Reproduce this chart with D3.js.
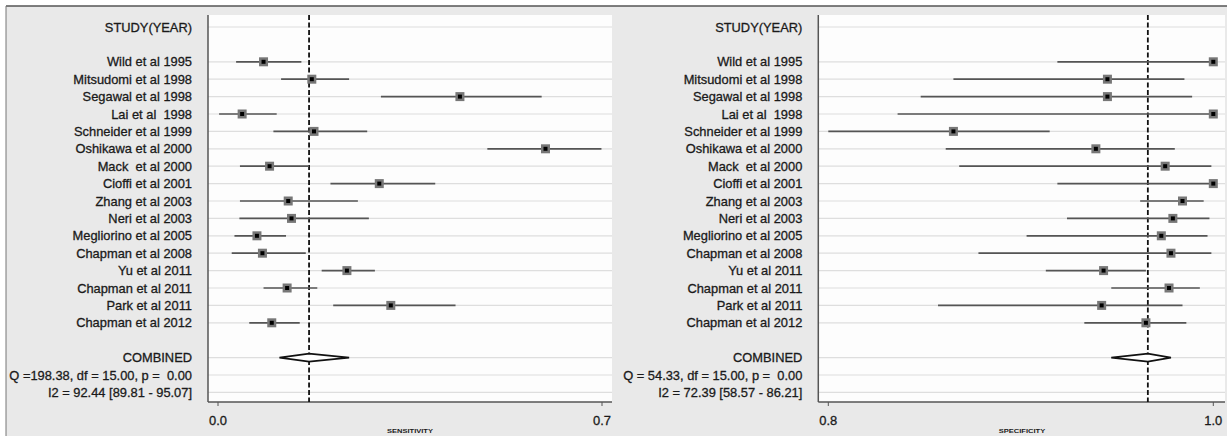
<!DOCTYPE html>
<html>
<head>
<meta charset="utf-8">
<script src="https://cdn.jsdelivr.net/npm/d3@7"></script>
<style>
  body { margin: 0; background: #fff; }
  text { font-family: "Liberation Sans", Arial, sans-serif; fill: #1a1a1a; }
</style>
</head>
<body>
<div id="chart"></div>
<script>
// row labels (top to bottom), "" = blank row
const rowLabels = ["STUDY(YEAR)", "", "Wild et al 1995", "Mitsudomi et al 1998", "Segawal et al 1998",
  "Lai et al  1998", "Schneider et al 1999", "Oshikawa et al 2000", "Mack  et al 2000", "Cioffi et al 2001",
  "Zhang et al 2003", "Neri et al 2003", "Megliorino et al 2005", "Chapman et al 2008", "Yu et al 2011",
  "Chapman et al 2011", "Park et al 2011", "Chapman et al 2012", "", "COMBINED"];

// sensitivity per study
const sensEst = [0.083, 0.171, 0.441, 0.044, 0.175, 0.597, 0.094, 0.294, 0.128, 0.134, 0.071, 0.081, 0.235, 0.126, 0.315, 0.098];
const sensLo  = [0.033, 0.115, 0.297, 0.002, 0.101, 0.491, 0.040, 0.205, 0.040, 0.039, 0.030, 0.025, 0.189, 0.083, 0.210, 0.057];
const sensHi  = [0.152, 0.239, 0.590, 0.107, 0.272, 0.699, 0.166, 0.396, 0.255, 0.275, 0.124, 0.160, 0.286, 0.181, 0.433, 0.149];
const sensCombined = [0.112, 0.166, 0.239];
const sensStats = ["Q =198.38, df = 15.00, p =  0.00", "I2 = 92.44 [89.81 - 95.07]"];

// specificity per study
const specEst = [1.000, 0.945, 0.945, 1.000, 0.865, 0.939, 0.975, 1.000, 0.984, 0.979, 0.973, 0.978, 0.943, 0.977, 0.942, 0.965];
const specLo  = [0.919, 0.865, 0.848, 0.836, 0.800, 0.861, 0.868, 0.919, 0.962, 0.924, 0.903, 0.878, 0.913, 0.947, 0.857, 0.933];
const specHi  = [1.000, 0.985, 0.989, 1.000, 0.915, 0.980, 0.999, 1.000, 0.995, 0.998, 0.997, 0.999, 0.965, 0.993, 0.984, 0.986];
const specCombined = [0.947, 0.966, 0.978];
const specStats = ["Q = 54.33, df = 15.00, p =  0.00", "I2 = 72.39 [58.57 - 86.21]"];

const W = 1227, H = 436;
const svg = d3.select("#chart").append("svg").attr("width", W).attr("height", H);

// pick a font size so that a sample string comes out at the wanted width
function fitSize(sample, width, weight) {
  const t = svg.append("text").attr("font-size", 100).attr("font-weight", weight || "normal")
    .style("white-space", "pre").text(sample);
  const w = t.node().getComputedTextLength();
  t.remove();
  return 100 * width / w;
}

svg.append("rect").attr("x", 0).attr("y", 0).attr("width", W).attr("height", H).attr("fill", "#fff");
svg.append("rect").attr("x", 6).attr("y", 6).attr("width", W - 6).attr("height", H - 6).attr("fill", "#e9e9e9");
svg.append("line").attr("x1", 6).attr("x2", W).attr("y1", 6).attr("y2", 6).attr("stroke", "#555").attr("stroke-width", 1.5);
svg.append("line").attr("x1", 6).attr("x2", 6).attr("y1", 6).attr("y2", H).attr("stroke", "#777").attr("stroke-width", 1);

const labelSize = fitSize("Schneider et al 1999", 118);
const tickSize = fitSize("0.7", 18);
const titleSize = fitSize("SENSITIVITY", 46, "bold");

// row position scale (rows 0..21)
const y = d3.scaleLinear().domain([0, 21]).range([27, 392.4]);

function drawPanel(opt) {
  const g = svg.append("g");
  const x = d3.scaleLinear().domain(opt.domain).range(opt.range);
  const top = 15, bottom = 402;

  g.append("rect").attr("x", opt.left).attr("y", top)
    .attr("width", opt.right - opt.left).attr("height", bottom - top).attr("fill", "#fdfdfd");

  const labels = rowLabels.concat(opt.stats);
  const labelled = labels.map((d, i) => i).filter(i => labels[i] !== "");

  // grid lines on labelled rows
  g.selectAll(".grid").data(labelled).enter().append("line")
    .attr("x1", opt.left).attr("x2", opt.right)
    .attr("y1", d => y(d)).attr("y2", d => y(d))
    .attr("stroke", "#dedede").attr("stroke-width", 1.2);

  // row labels
  g.selectAll(".lab").data(labelled).enter().append("text")
    .attr("x", opt.left - 16).attr("y", d => y(d)).attr("dy", "0.36em")
    .attr("text-anchor", "end").attr("font-size", labelSize)
    .attr("stroke", "#1a1a1a").attr("stroke-width", 0.3)
    .style("white-space", "pre")
    .text(d => labels[d]);

  // axes lines
  g.append("line").attr("x1", opt.left).attr("x2", opt.left).attr("y1", top).attr("y2", bottom)
    .attr("stroke", "#555").attr("stroke-width", 1.5);
  g.append("line").attr("x1", opt.left).attr("x2", opt.right).attr("y1", bottom).attr("y2", bottom)
    .attr("stroke", "#555").attr("stroke-width", 1.5);

  // x ticks
  g.selectAll(".tick").data(opt.domain).enter().append("line")
    .attr("x1", d => x(d)).attr("x2", d => x(d)).attr("y1", bottom).attr("y2", bottom + 4)
    .attr("stroke", "#555").attr("stroke-width", 1);
  g.selectAll(".ticklab").data(opt.domain).enter().append("text")
    .attr("x", d => x(d)).attr("y", 425).attr("text-anchor", "middle").attr("font-size", tickSize)
    .attr("stroke", "#1a1a1a").attr("stroke-width", 0.3)
    .text(d => d3.format(".1f")(d));
  g.append("text").attr("x", opt.titleX).attr("y", 433).attr("text-anchor", "middle")
    .attr("font-size", titleSize).attr("font-weight", "bold").attr("fill", "#444")
    .attr("transform", `translate(${opt.titleX},433) scale(1,0.75) translate(${-opt.titleX},-433)`)
    .text(opt.title);

  // reference dashed line at combined estimate
  g.append("line").attr("x1", x(opt.comb[1])).attr("x2", x(opt.comb[1]))
    .attr("y1", top).attr("y2", bottom)
    .attr("stroke", "#111").attr("stroke-width", 1.8).attr("stroke-dasharray", "5,2.5");

  const idx = d3.range(opt.est.length);
  g.selectAll(".ci").data(idx).enter().append("line")
    .attr("x1", i => x(opt.lo[i])).attr("x2", i => x(opt.hi[i]))
    .attr("y1", i => y(i + 2)).attr("y2", i => y(i + 2))
    .attr("stroke", "#555").attr("stroke-width", 1.7);
  g.selectAll(".box").data(idx).enter().append("rect")
    .attr("x", i => x(opt.est[i]) - 4.5).attr("y", i => y(i + 2) - 4.5)
    .attr("width", 9).attr("height", 9).attr("fill", "#777");
  g.selectAll(".dot").data(idx).enter().append("rect")
    .attr("x", i => x(opt.est[i]) - 2).attr("y", i => y(i + 2) - 2)
    .attr("width", 4).attr("height", 4).attr("fill", "#000");

  // combined diamond
  const cy = y(19);
  const c = opt.comb;
  g.append("path")
    .attr("d", `M${x(c[0])},${cy}L${x(c[1])},${cy - 4}L${x(c[2])},${cy}L${x(c[1])},${cy + 4}Z`)
    .attr("fill", "#fff").attr("stroke", "#111").attr("stroke-width", 1.6);
}

drawPanel({ left: 208, right: 612, domain: [0, 0.7], range: [218, 602],
  est: sensEst, lo: sensLo, hi: sensHi, comb: sensCombined, stats: sensStats,
  title: "SENSITIVITY", titleX: 410 });

drawPanel({ left: 818.3, right: 1225, domain: [0.8, 1.0], range: [828.3, 1213.3],
  est: specEst, lo: specLo, hi: specHi, comb: specCombined, stats: specStats,
  title: "SPECIFICITY", titleX: 1022 });
</script>
</body>
</html>
